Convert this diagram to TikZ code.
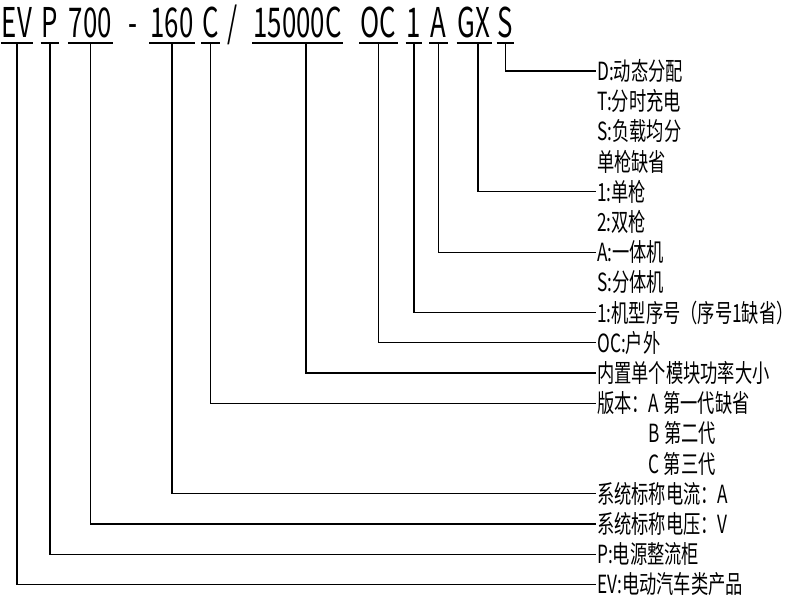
\documentclass[tikz,border=0pt]{standalone}
\usepackage{fontspec}
\newfontfamily\codefont[FakeStretch=0.63]{Noto Sans CJK SC}
\newfontfamily\lblfont[FakeStretch=0.69]{Noto Sans CJK SC}
\usetikzlibrary{calc}
\tikzset{
  seg/.style={font=\codefont\fontsize{41}{41}\selectfont, inner xsep=1pt, inner ysep=5pt, text depth=0pt, anchor=south},
  lbl/.style={font=\lblfont\fontsize{25}{25}\selectfont, inner sep=1pt, anchor=west},
  wire/.style={line width=1.2pt}
}
\begin{document}
\begin{tikzpicture}[x=1pt,y=-1pt]
    \useasboundingbox (0,0) rectangle (800,600);
    \foreach \n/\x/\t in {ev/17/EV, p/50/P, sev/90.5/700, oneh/172/160, c/210.5/C, kva/297.5/15000C, oc/378.5/OC, one/414/1, a/438.5/A, gx/474/GX, s/505.5/S}
    {
        \node[seg] (\n) at (\x,43) {\t};
        \draw[wire] (\n.south west) -- (\n.south east);
    }
    \node[seg] (dash) at (133,43) {-};
    \node[seg] (slash) at (233,43) {/};
    \foreach \t [count=\i from 0] in {D:动态分配, T:分时充电, S:负载均分, 单枪缺省, 1:单枪, 2:双枪, A:一体机, S:分体机, 1:机型序号（序号1缺省）, OC:户外, 内置单个模块功率大小, 版本：A 第一代缺省, \phantom{版本：}B 第二代, \phantom{版本：}C 第三代, 系统标称电流：A, 系统标称电压：V, P:电源整流柜, EV:电动汽车类产品}
        \node[lbl] (l\i) at (596,71+30.2*\i) {\t};
    \foreach \n/\i in {ev/17, p/16, sev/15, oneh/14, c/11, oc/9, one/8, a/6, s/0}
        \draw[wire] (\n.south) |- (l\i.west);
    \draw[wire] ([xshift=8.5pt]kva.south) |- (l10.west);
    \draw[wire] ([xshift=4pt]gx.south) |- (l4.west);
\end{tikzpicture}
\end{document}
